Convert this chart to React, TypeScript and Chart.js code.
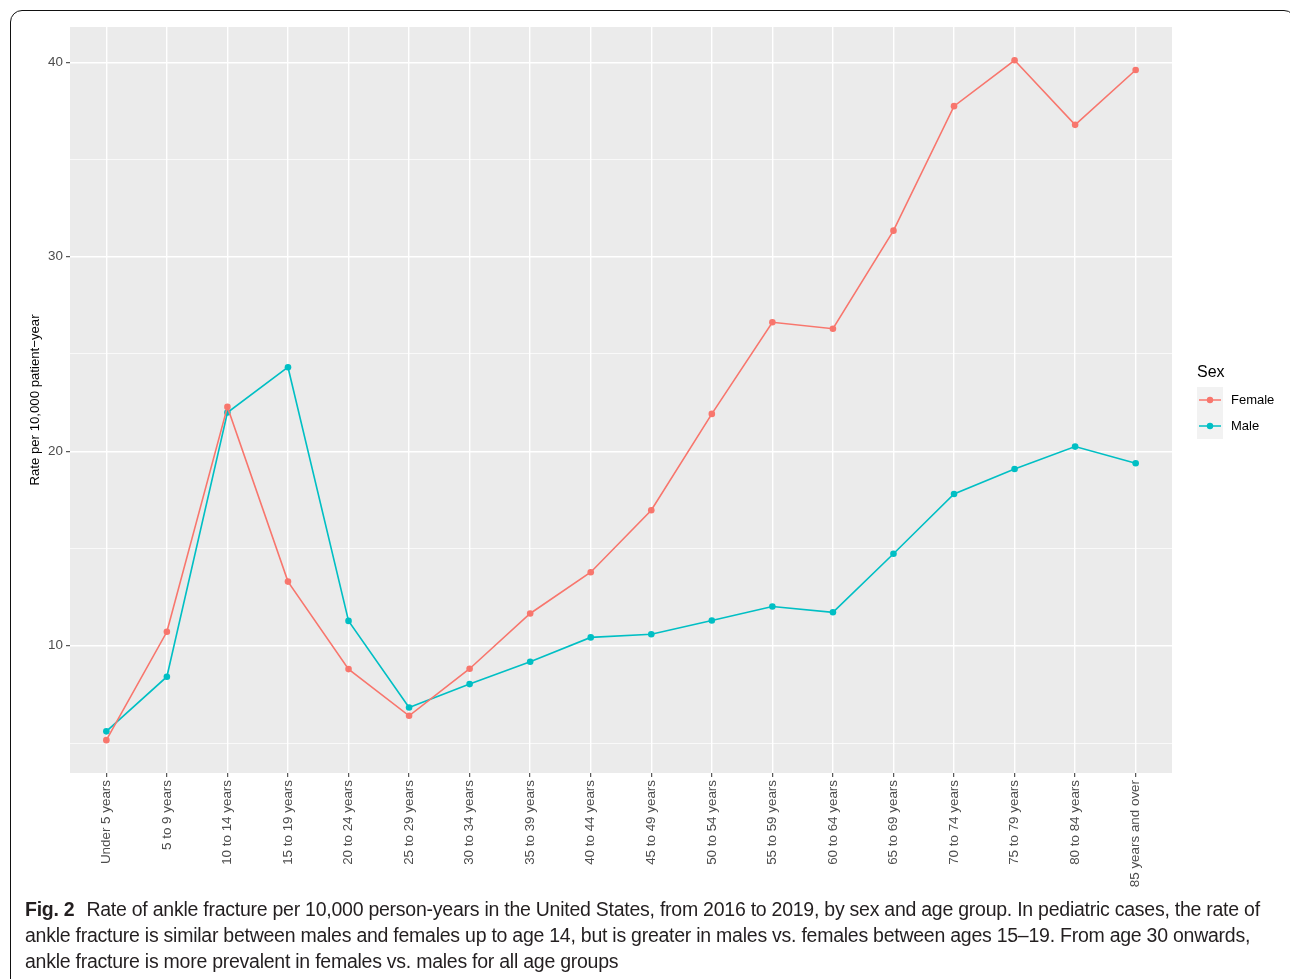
import React, { useEffect, useRef } from "react";
import { Chart, registerables } from "chart.js";

Chart.register(...registerables);

const categories = [
  "Under 5 years", "5 to 9 years", "10 to 14 years", "15 to 19 years",
  "20 to 24 years", "25 to 29 years", "30 to 34 years", "35 to 39 years",
  "40 to 44 years", "45 to 49 years", "50 to 54 years", "55 to 59 years",
  "60 to 64 years", "65 to 69 years", "70 to 74 years", "75 to 79 years",
  "80 to 84 years", "85 years and over",
];

const femaleRates = [5.15, 10.72, 22.28, 13.3, 8.8, 6.4, 8.82, 11.66, 13.78, 16.97, 21.92, 26.63, 26.3, 31.34, 37.74, 40.1, 36.78, 39.6];
const maleRates = [5.6, 8.41, 21.99, 24.32, 11.28, 6.83, 8.03, 9.18, 10.43, 10.59, 11.3, 12.02, 11.72, 14.73, 17.8, 19.09, 20.24, 19.38];

const yGridValues = [5, 10, 15, 20, 25, 30, 35, 40];
const yLabelValues = [10, 20, 30, 40];

const seriesNames = ["Female", "Male"];
const legendTitle = "Sex";
const yTitle = "Rate per 10,000 patient\u2212year";

const captionBold = "Fig. 2";
const captionLines = [
  "Rate of ankle fracture per 10,000 person-years in the United States, from 2016 to 2019, by sex and age group. In pediatric cases, the rate of",
  "ankle fracture is similar between males and females up to age 14, but is greater in males vs. females between ages 15\u201319. From age 30 onwards,",
  "ankle fracture is more prevalent in females vs. males for all age groups",
];

const COLORS = ["#F8766D", "#00BFC4"];
const FONT = "'Liberation Sans', Arial, sans-serif";

const panelBg = {
  id: "panelBg",
  beforeDraw(chart: any) {
    const { ctx, chartArea } = chart;
    ctx.save();
    ctx.fillStyle = "#EBEBEB";
    ctx.fillRect(chartArea.left, chartArea.top, chartArea.right - chartArea.left, chartArea.bottom - chartArea.top);
    ctx.restore();
  },
};

const ggLegend = {
  id: "ggLegend",
  afterDraw(chart: any) {
    const { ctx, chartArea } = chart;
    const x0 = chartArea.right + 25;
    const cy = (chartArea.top + chartArea.bottom) / 2;
    ctx.save();
    ctx.fillStyle = "#000";
    ctx.font = `16px ${FONT}`;
    ctx.textBaseline = "alphabetic";
    ctx.textAlign = "left";
    ctx.fillText(legendTitle, x0, cy - 23);
    const keyTop = cy - 13;
    ctx.fillStyle = "#F2F2F2";
    ctx.fillRect(x0, keyTop, 26, 52);
    seriesNames.forEach((name, i) => {
      const yc = keyTop + 13 + i * 26;
      ctx.strokeStyle = COLORS[i];
      ctx.lineWidth = 1.5;
      ctx.beginPath();
      ctx.moveTo(x0 + 2, yc);
      ctx.lineTo(x0 + 24, yc);
      ctx.stroke();
      ctx.fillStyle = COLORS[i];
      ctx.beginPath();
      ctx.arc(x0 + 13, yc, 3.2, 0, Math.PI * 2);
      ctx.fill();
      ctx.fillStyle = "#000";
      ctx.font = `13px ${FONT}`;
      ctx.textBaseline = "middle";
      ctx.fillText(name, x0 + 34, yc);
    });
    ctx.restore();
  },
};

export default function App() {
  const canvasRef = useRef<HTMLCanvasElement | null>(null);

  useEffect(() => {
    const canvas = canvasRef.current;
    if (!canvas) return;
    const seriesData = [femaleRates, maleRates];
    const chart = new Chart(canvas, {
      type: "line",
      data: {
        datasets: seriesNames.map((name, k) => ({
          label: name,
          data: seriesData[k].map((v, i) => ({ x: i, y: v })),
          borderColor: COLORS[k],
          backgroundColor: COLORS[k],
          pointBackgroundColor: COLORS[k],
          pointBorderWidth: 0,
          pointRadius: 3.3,
          borderWidth: 1.6,
          tension: 0,
          fill: false,
        })),
      },
      options: {
        animation: false,
        responsive: false,
        maintainAspectRatio: false,
        layout: { padding: { left: 0, top: 27, right: 118, bottom: 0 } },
        plugins: {
          legend: { display: false },
          tooltip: { enabled: false },
        },
        scales: {
          x: {
            type: "linear",
            min: -0.6,
            max: categories.length - 1 + 0.6,
            afterBuildTicks: (s: any) => {
              s.ticks = categories.map((_, i) => ({ value: i }));
            },
            afterFit: (s: any) => {
              s.height = 127;
            },
            ticks: {
              autoSkip: false,
              maxRotation: 90,
              minRotation: 90,
              padding: 3,
              color: "#4D4D4D",
              font: { size: 13.4, family: FONT },
              callback: (v: any) => categories[Math.round(Number(v))],
            },
            grid: {
              color: "#FFFFFF",
              lineWidth: 1.4,
              tickLength: 4,
              tickColor: "#333333",
              tickWidth: 1,
            },
            border: { display: false },
          },
          y: {
            type: "linear",
            min: 3.46,
            max: 41.81,
            afterBuildTicks: (s: any) => {
              s.ticks = yGridValues.map((v) => ({ value: v }));
            },
            afterFit: (s: any) => {
              s.width = 70;
            },
            ticks: {
              padding: 3,
              color: "#4D4D4D",
              font: { size: 13.4, family: FONT },
              callback: (v: any) => (yLabelValues.includes(Number(v)) ? String(v) : ""),
            },
            grid: {
              color: "#FFFFFF",
              lineWidth: (c: any) => (c.tick && yLabelValues.includes(c.tick.value) ? 1.4 : 0.7),
              tickLength: 4,
              tickColor: (c: any) => (c.tick && yLabelValues.includes(c.tick.value) ? "#333333" : "rgba(0,0,0,0)"),
              tickWidth: 1,
            },
            border: { display: false },
            title: {
              display: true,
              text: yTitle,
              color: "#000",
              font: { size: 13.2, family: FONT },
              padding: { top: 27.5, bottom: 0 },
            },
          },
        },
      },
      plugins: [panelBg, ggLegend],
    } as any);
    return () => chart.destroy();
  }, []);

  return (
    <div style={{ position: "absolute", left: 0, top: 0, width: 1290, height: 979, overflow: "hidden", background: "#fff" }}>
      <div
        style={{
          position: "absolute",
          left: 10,
          top: 10,
          width: 1286,
          height: 1100,
          border: "1.3px solid #111",
          borderTopLeftRadius: 12,
          borderTopRightRadius: 12,
          boxSizing: "border-box",
        }}
      />
      <canvas ref={canvasRef} width={1290} height={900} style={{ position: "absolute", left: 0, top: 0, width: 1290, height: 900 }} />
      <div
        style={{
          position: "absolute",
          left: 25,
          top: 896,
          fontFamily: "'Liberation Sans', Arial, sans-serif",
          fontSize: 19.5,
          letterSpacing: "-0.25px",
          lineHeight: "26px",
          color: "#231F20",
          whiteSpace: "nowrap",
        }}
      >
        {captionLines.map((line, i) => (
          <div key={i}>
            {i === 0 && <span style={{ fontWeight: "bold", marginRight: 12 }}>{captionBold}</span>}
            {line}
          </div>
        ))}
      </div>
    </div>
  );
}
